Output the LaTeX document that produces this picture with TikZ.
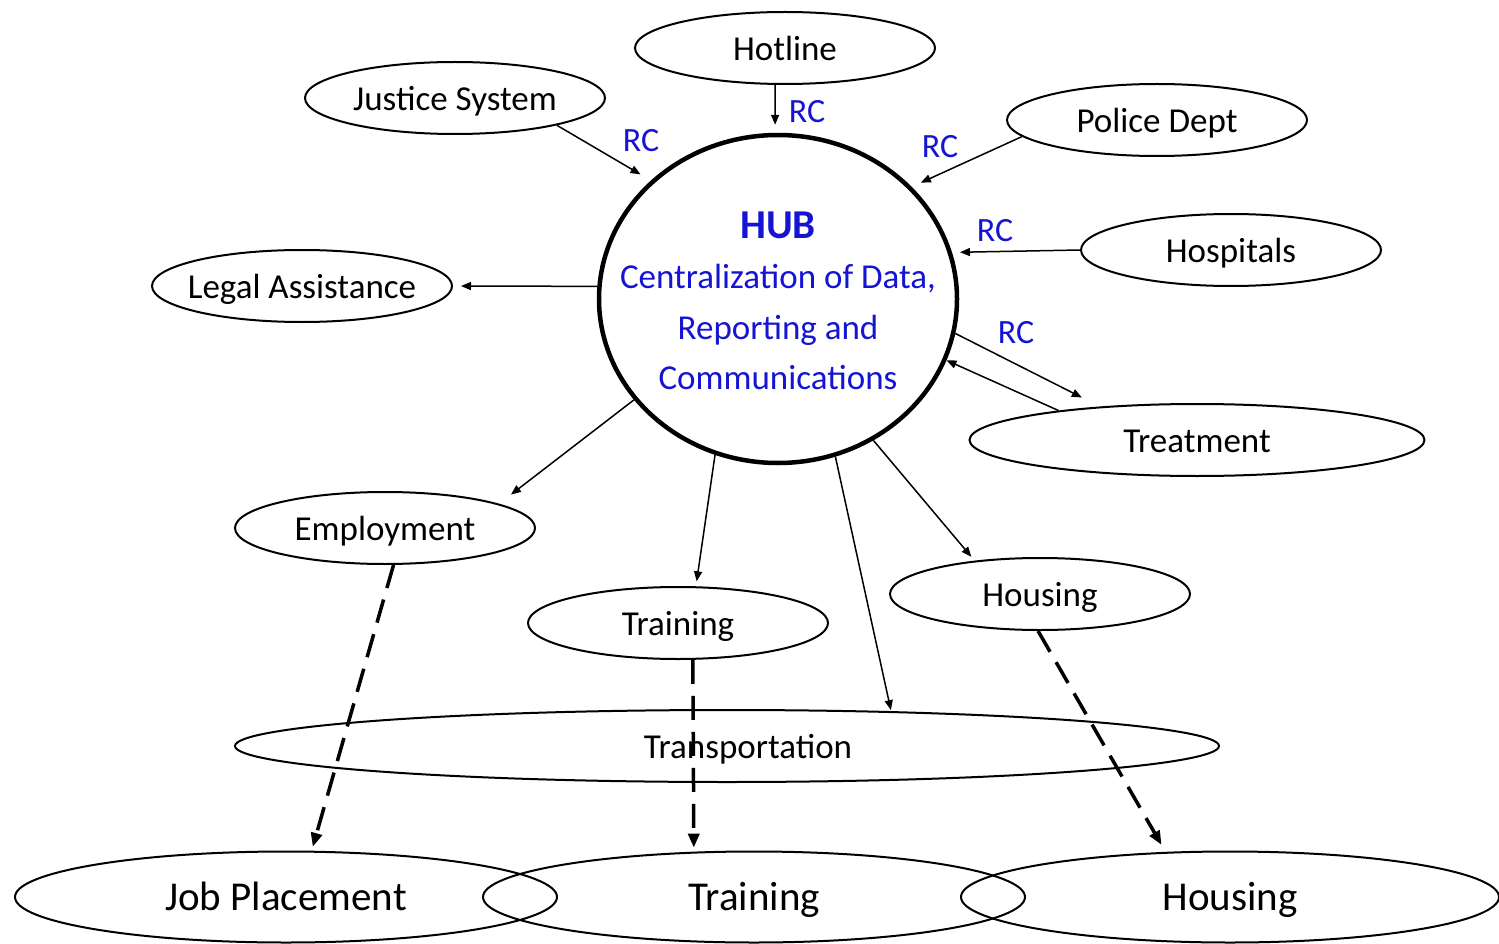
\documentclass[tikz,border=0pt]{standalone}
\usepackage{fontspec}
\setmainfont{Carlito}
\usetikzlibrary{shapes.geometric,arrows.meta}
\definecolor{hubblue}{RGB}{20,20,210}
\tikzset{
  oval/.style={draw, ellipse, line width=2pt, minimum width=300pt, minimum height=72pt, inner xsep=-12pt, inner ysep=0pt, text height=32pt, text depth=7pt, font=\fontsize{35}{42}\selectfont},
  bigoval/.style={oval, minimum width=542pt, minimum height=91pt, text height=34pt, text depth=8pt, font=\fontsize{41}{49}\selectfont},
  rc/.style={text=hubblue, font=\fontsize{34}{40}\selectfont, inner sep=0pt},
  link/.style={-{Triangle[length=10pt,width=8pt]}, line width=1.5pt},
  dlink/.style={-{Triangle[length=14pt,width=11pt]}, line width=3.5pt, dash pattern=on 24pt off 12pt},
}
\begin{document}
\begin{tikzpicture}[x=1pt,y=-1pt]
\useasboundingbox (0,0) rectangle (1499,944);
\node[draw, ellipse, line width=4.5pt, minimum width=358pt, minimum height=328pt] (hub) at (778,299) {};
\node[text=hubblue, align=center, font=\fontsize{35}{50.5}\selectfont] (hubtext) at (778,301) {{\fontsize{41}{48}\selectfont\bfseries HUB}\\Centralization of Data,\\Reporting and\\Communications};

\node[oval] (hotline) at (785,48) {Hotline};
\node[oval] (justice) at (455,98) {Justice System};
\node[oval] (police) at (1157,120) {Police Dept};
\node[oval] (hospitals) at (1231,250) {Hospitals};
\node[oval] (legal) at (302,286) {Legal Assistance};
\node[oval, minimum width=455pt] (treatment) at (1197,440) {Treatment};
\node[oval] (employment) at (385,528) {Employment};
\node[oval] (training) at (678,623) {Training};
\node[oval] (housing) at (1040,594) {Housing};
\node[oval, minimum width=984pt, label={[font=\fontsize{35}{42}\selectfont, text height=32pt, text depth=7pt, xshift=21pt]center:Transportation}] (transport) at (727,746) {};
\node[bigoval] (jobplace) at (286,897) {Job Placement};
\node[bigoval] (trainbig) at (754,897) {Training};
\node[bigoval, minimum width=538pt] (housebig) at (1230,897) {Housing};

\node[rc] (rchotline) at (807,112) {RC};
\node[rc] (rcjustice) at (641,141) {RC};
\node[rc] (rcpolice) at (940,147) {RC};
\node[rc] (rchospitals) at (995,231) {RC};
\node[rc] (rctreatment) at (1016,333) {RC};

\draw[link, shorten >=8pt] (hotline.-105) -- (hub.91);
\draw[link, shorten >=12pt] (justice.-15) -- (hub.137);
\draw[link, shorten >=10pt] (police.187) -- (hub.40.6);
\draw[link, shorten >=8pt] (hospitals.180) -- (hub.15);
\draw[link, shorten >=8pt] (hub.176) -- (legal.0);
\draw[link, shorten >=20pt] (hub.-11) -- (treatment.161);
\draw[link] (treatment.168) -- (hub.-20);
\draw[link, shorten >=15pt] (hub.-145) -- (employment.12);
\draw[link, shorten >=5pt] (hub.-112) -- (training.64);
\draw[link, shorten >=1pt] (hub.-70.5) -- (transport.12.5);
\draw[link, shorten >=5pt] (hub.-56) -- (housing.153);

\draw[dlink, shorten >=4pt] (employment.-77) -- (jobplace.61);
\draw[dlink, shorten >=4pt] (training.-68) -- (trainbig.143);
\draw[dlink, shorten >=8pt] (housing.-93) -- (housebig.145);
\end{tikzpicture}
\end{document}
